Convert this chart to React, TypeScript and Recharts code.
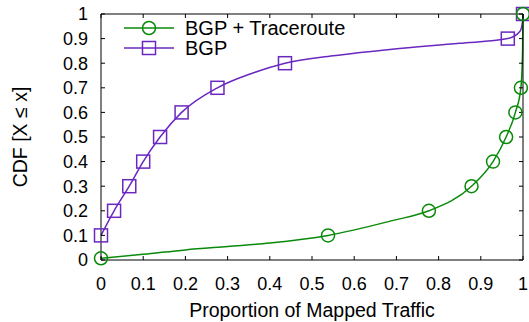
import { ComposedChart, Line, Scatter, XAxis, YAxis } from "recharts";

// curve samples
const tracerouteX = [0, 0.1, 0.2, 0.3, 0.4, 0.538, 0.69, 0.777, 0.878, 0.929, 0.96, 0.982, 0.995, 0.999, 1];
const tracerouteY = [0.007, 0.023, 0.041, 0.055, 0.069, 0.1, 0.16, 0.2, 0.3, 0.4, 0.5, 0.6, 0.7, 0.85, 1];
const bgpX = [0, 0.031, 0.067, 0.1, 0.14, 0.191, 0.276, 0.36, 0.436, 0.55, 0.69, 0.85, 0.964, 0.993, 0.999, 1];
const bgpY = [0.1, 0.2, 0.3, 0.4, 0.5, 0.6, 0.7, 0.76, 0.8, 0.83, 0.857, 0.881, 0.9, 0.93, 0.97, 1];

// marker positions (every decile of the CDF)
const tracerouteMarkX = [0, 0.538, 0.777, 0.878, 0.929, 0.96, 0.982, 0.995, 1];
const tracerouteMarkY = [0.007, 0.1, 0.2, 0.3, 0.4, 0.5, 0.6, 0.7, 1];
const bgpMarkX = [0, 0.031, 0.067, 0.1, 0.14, 0.191, 0.276, 0.436, 0.964, 1];
const bgpMarkY = [0.1, 0.2, 0.3, 0.4, 0.5, 0.6, 0.7, 0.8, 0.9, 1];

const ticks = [0, 0.1, 0.2, 0.3, 0.4, 0.5, 0.6, 0.7, 0.8, 0.9, 1];

const GREEN = "#0a8a0a";
const PURPLE = "#6a28c0";
const FONT = "'Liberation Sans', Arial, sans-serif";

const zip = (xs: number[], ys: number[]) => xs.map((x, i) => ({ x, y: ys[i] }));

const tracerouteCurve = zip(tracerouteX, tracerouteY);
const bgpCurve = zip(bgpX, bgpY);
const tracerouteMarks = zip(tracerouteMarkX, tracerouteMarkY);
const bgpMarks = zip(bgpMarkX, bgpMarkY);

const Circle = (props: any) => (
  <circle cx={props.cx} cy={props.cy} r={6.5} fill="none" stroke={GREEN} strokeWidth={1.5} />
);

const Square = (props: any) => (
  <rect x={props.cx - 6.5} y={props.cy - 6.5} width={13} height={13} fill="none" stroke={PURPLE} strokeWidth={1.5} />
);

const NoLabel = () => <g />;

const legendItems = [
  { name: "BGP + Traceroute", color: GREEN, marker: "circle" },
  { name: "BGP", color: PURPLE, marker: "square" },
];

function LegendBox() {
  return (
    <div style={{ position: "absolute", left: 123, top: 18, fontFamily: FONT, fontSize: 20, color: "#000" }}>
      {legendItems.map((it) => (
        <div key={it.name} style={{ display: "flex", alignItems: "center", height: 20 }}>
          <svg width={52} height={20} style={{ display: "block" }}>
            <line x1={1} y1={10} x2={51} y2={10} stroke={it.color} strokeWidth={1.5} />
            {it.marker === "circle" ? (
              <circle cx={26} cy={10} r={6.5} fill="none" stroke={it.color} strokeWidth={1.5} />
            ) : (
              <rect x={19.5} y={3.5} width={13} height={13} fill="none" stroke={it.color} strokeWidth={1.5} />
            )}
          </svg>
          <span style={{ marginLeft: 10, lineHeight: "20px" }}>{it.name}</span>
        </div>
      ))}
    </div>
  );
}

const tickStyle = { fontFamily: FONT, fontSize: 18, fill: "#000" };

export default function App() {
  return (
    <div style={{ position: "absolute", left: 0, top: 0, width: 529, height: 322, background: "#fff" }}>
      <ComposedChart width={529} height={322} margin={{ top: 4, right: 0, left: 0, bottom: 0 }}>
        <XAxis
          type="number"
          dataKey="x"
          domain={[0, 1]}
          ticks={ticks}
          interval={0}
          height={62}
          tickSize={-4}
          tickMargin={21}
          stroke="#000"
          tick={tickStyle}
          label={{
            value: "Proportion of Mapped Traffic",
            position: "insideBottom",
            offset: 5,
            style: { fontFamily: FONT, fontSize: 19.5, fill: "#000" },
          }}
        />
        <XAxis xAxisId="top" orientation="top" type="number" dataKey="x" domain={[0, 1]} ticks={ticks} interval={0} height={10} tickSize={-4} tick={NoLabel} stroke="#000" />
        <YAxis
          type="number"
          dataKey="y"
          domain={[0, 1]}
          ticks={ticks}
          interval={0}
          width={101}
          tickSize={-4}
          tickMargin={17}
          stroke="#000"
          tick={tickStyle}
          label={{
            content: (p: any) => {
              const vb = p.viewBox;
              const cx = vb.x + 27;
              const cy = vb.y + vb.height / 2;
              return (
                <text x={cx} y={cy} transform={`rotate(-90, ${cx}, ${cy})`} textAnchor="middle" fontFamily={FONT} fontSize={19.5} fill="#000">
                  CDF [X ≤ x]
                </text>
              );
            },
          }}
        />
        <YAxis yAxisId="right" orientation="right" type="number" dataKey="y" domain={[0, 1]} ticks={ticks} interval={0} width={6} tickSize={-4} tick={NoLabel} stroke="#000" />
        <Line data={bgpCurve} dataKey="y" type="monotone" stroke={PURPLE} strokeWidth={1.5} dot={false} isAnimationActive={false} />
        <Scatter data={bgpMarks} dataKey="y" shape={Square} isAnimationActive={false} />
        <Line data={tracerouteCurve} dataKey="y" type="monotone" stroke={GREEN} strokeWidth={1.5} dot={false} isAnimationActive={false} />
        <Scatter data={tracerouteMarks} dataKey="y" xAxisId="top" yAxisId="right" shape={Circle} isAnimationActive={false} />
      </ComposedChart>
      <LegendBox />
    </div>
  );
}
